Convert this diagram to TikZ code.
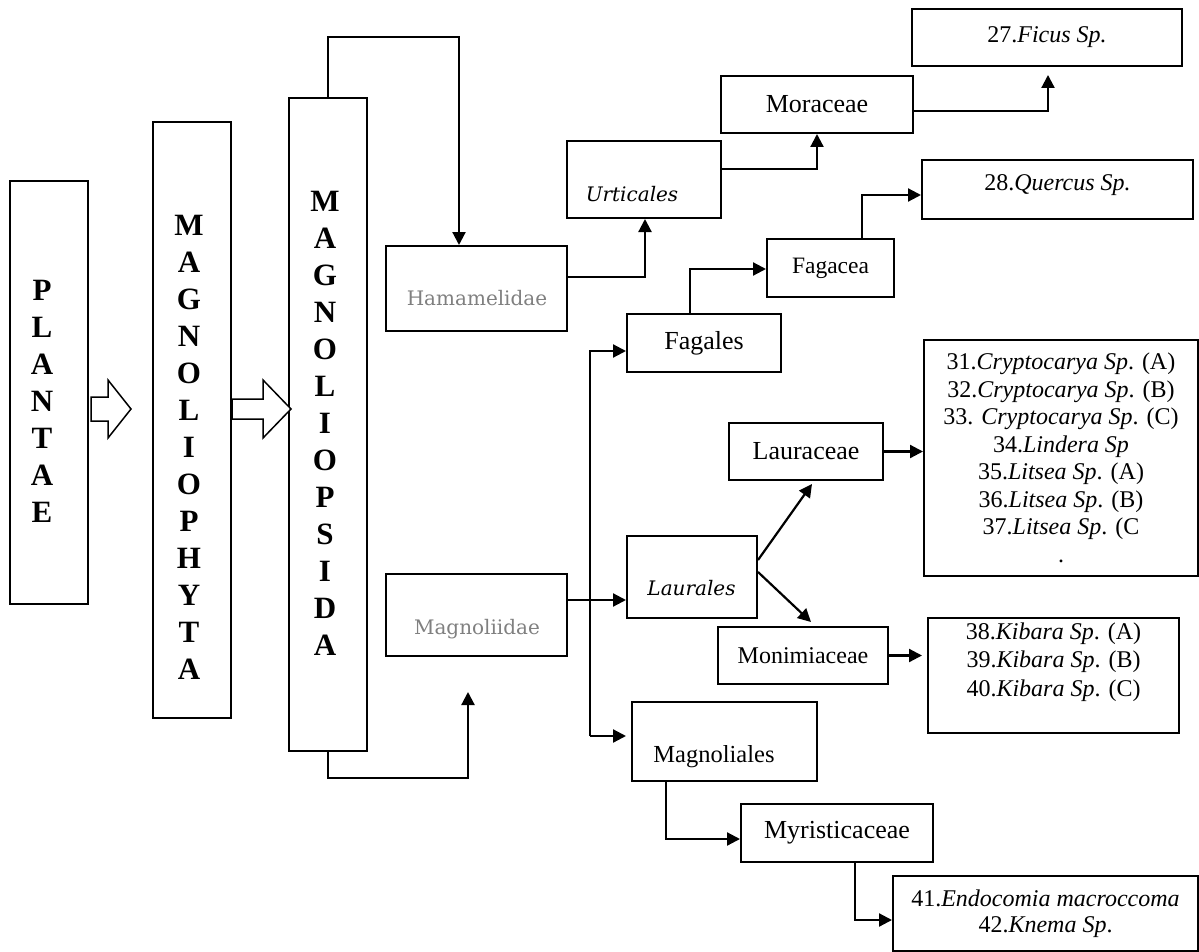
\documentclass[tikz,border=0pt]{standalone}
\usepackage{fontspec}
\setmainfont{Liberation Serif}
\newfontfamily\camfont{DejaVu Serif}
\usetikzlibrary{arrows.meta}
\tikzset{
  box/.style={draw, line width=2pt, inner sep=0pt, align=center},
  conn/.style={line width=2.2pt, -{Triangle[length=13pt,width=13pt]}},
  vlet/.style={font=\fontsize{31}{37}\selectfont\bfseries, align=center, inner sep=0pt},
  graytxt/.style={font=\camfont\fontsize{20}{24}\selectfont, text=black!50, inner sep=0pt, anchor=base},
  blockarrow/.style={draw, line width=1.5pt, fill=white, line join=miter},
}
\begin{document}
\begin{tikzpicture}[x=1pt,y=-1pt]
\useasboundingbox (0,0) rectangle (1199,952);

% left column boxes
\node[box, minimum width=78pt, minimum height=423pt] (plantae) at (49,392.5) {};
\node[vlet] (plantaeT) at (42,401) {P\\L\\A\\N\\T\\A\\E};
\node[box, minimum width=78pt, minimum height=596pt] (phyta) at (192,420) {};
\node[vlet] (phytaT) at (189,447.5) {M\\A\\G\\N\\O\\L\\I\\O\\P\\H\\Y\\T\\A};
\node[box, minimum width=78pt, minimum height=653pt] (opsida) at (328,424.5) {};
\node[vlet] (opsidaT) at (325,423) {M\\A\\G\\N\\O\\L\\I\\O\\P\\S\\I\\D\\A};

% block arrows
\draw[blockarrow] (91,397) -- (108,397) -- (108,380) -- (131,409) -- (108,438) -- (108,421) -- (91,421) -- cycle;
\draw[blockarrow] (232,399) -- (263,399) -- (263,380) -- (291,409) -- (263,438) -- (263,419) -- (232,419) -- cycle;

% subclasses
\node[box, minimum width=181pt, minimum height=85pt] (ham) at (476.5,288.5) {};
\node[graytxt] (hamT) at (477,305) {Hamamelidae};
\node[box, minimum width=181pt, minimum height=82pt] (magn) at (476.5,615) {};
\node[graytxt] (magnT) at (477,634) {Magnoliidae};

% orders and families
\node[box, minimum width=154pt, minimum height=77pt] (urt) at (644,179.5) {};
\node[font=\camfont\itshape\fontsize{20}{24}\selectfont, inner sep=0pt, anchor=base] (urtT) at (632,201) {Urticales};
\node[box, minimum width=192pt, minimum height=57pt, font=\fontsize{26}{30}\selectfont] (mor) at (817,104.5) {Moraceae};
\node[box, minimum width=270pt, minimum height=57pt, font=\fontsize{24}{28}\selectfont] (ficus) at (1047,37.5) {27.\textit{Ficus Sp.}};
\node[box, minimum width=271pt, minimum height=59pt] (quer) at (1057.5,189.5) {};
\node[font=\fontsize{24}{28}\selectfont, inner sep=0pt] (querT) at (1057.5,185) {28.\textit{Quercus Sp.}};
\node[box, minimum width=127pt, minimum height=58pt, font=\fontsize{23.5}{28}\selectfont] (fagacea) at (830.5,268) {Fagacea};
\node[box, minimum width=154pt, minimum height=58pt, font=\fontsize{26}{30}\selectfont] (fagales) at (704,343) {Fagales};
\node[box, minimum width=130pt, minimum height=82pt] (laurales) at (692,577) {};
\node[font=\camfont\itshape\fontsize{20}{24}\selectfont, inner sep=0pt, anchor=base] (laurT) at (691.5,595) {Laurales};
\node[box, minimum width=154pt, minimum height=57pt, font=\fontsize{26}{30}\selectfont] (lauraceae) at (806,451.5) {Lauraceae};
\node[box, minimum width=170pt, minimum height=57pt, font=\fontsize{24}{28}\selectfont] (moni) at (803,655.5) {Monimiaceae};
\node[box, minimum width=274pt, minimum height=236pt, font=\fontsize{24}{27.5}\selectfont] (cryp) at (1061,458) {31.\textit{Cryptocarya Sp}. (A)\\32.\textit{Cryptocarya Sp}. (B)\\33. \textit{Cryptocarya Sp}. (C)\\34.\textit{Lindera Sp}\\35.\textit{Litsea Sp}. (A)\\36.\textit{Litsea Sp}. (B)\\37.\textit{Litsea Sp}. (C\\.};
\node[box, minimum width=251pt, minimum height=115pt, font=\fontsize{24}{28.5}\selectfont] (kib) at (1053.5,675.5) {38.\textit{Kibara Sp}. (A)\\39.\textit{Kibara Sp}. (B)\\40.\textit{Kibara Sp}. (C)\\[4pt]};
\node[box, minimum width=185pt, minimum height=79pt] (magnoliales) at (724.5,741.5) {};
\node[font=\fontsize{24.5}{29}\selectfont, inner sep=0pt, anchor=base] (magnolialesT) at (714,762) {Magnoliales};
\node[box, minimum width=192pt, minimum height=58pt, font=\fontsize{26}{30}\selectfont] (myr) at (837,833) {Myristicaceae};
\node[box, minimum width=305pt, minimum height=75pt, font=\fontsize{24}{26}\selectfont] (endo) at (1045.5,913.5) {41.\textit{Endocomia macroccoma}\\42.\textit{Knema Sp}.};

% connector corners
\coordinate (c1) at (459,37);
\coordinate (c2) at (468,778);
\coordinate (c2e) at (468,692);
\coordinate (c3) at (645,277);
\coordinate (c4) at (817,169);
\coordinate (c5) at (1048,111);
\coordinate (c5e) at (1048,75);
\coordinate (c6) at (862,195);
\coordinate (c7) at (690,269);
\coordinate (t1) at (590,351);
\coordinate (t2) at (590,736);
\coordinate (t2e) at (626,736);
\coordinate (m1) at (567,600);
\coordinate (l1) at (758,560);
\coordinate (l1e) at (812,484);
\coordinate (l2) at (758,572);
\coordinate (l2e) at (811,622);
\coordinate (k1e) at (922,655.5);
\coordinate (c14) at (666,839);
\coordinate (c15) at (855,920);

% connectors
\draw[conn] (opsida.north) |- (c1) -- (c1 |- ham.north);
\draw[conn] (opsida.south) |- (c2) -- (c2e);
\draw[conn] (ham.east |- c3) -- (c3) -- (c3 |- urt.south);
\draw[conn] (urt.east |- c4) -- (c4) -- (c4 |- mor.south);
\draw[conn] (mor.east |- c5) -- (c5) -- (c5e);
\draw[conn] (c6 |- fagacea.north) -- (c6) -- (quer.west |- c6);
\draw[conn] (c7 |- fagales.north) -- (c7) -- (fagacea.west |- c7);
\draw[conn] (t2) -- (t1) -- (fagales.west |- t1);
\draw[conn] (t2) -- (t2e);
\draw[conn] (m1) -- (laurales.west |- m1);
\draw[conn] (l1) -- (l1e);
\draw[conn] (l2) -- (l2e);
\draw[conn] (lauraceae.east) -- (cryp.west |- lauraceae.east);
\draw[conn] (moni.east) -- (k1e);
\draw[conn] (c14 |- magnoliales.south) -- (c14) -- (myr.west |- c14);
\draw[conn] (c15 |- myr.south) -- (c15) -- (endo.west |- c15);
\end{tikzpicture}
\end{document}
